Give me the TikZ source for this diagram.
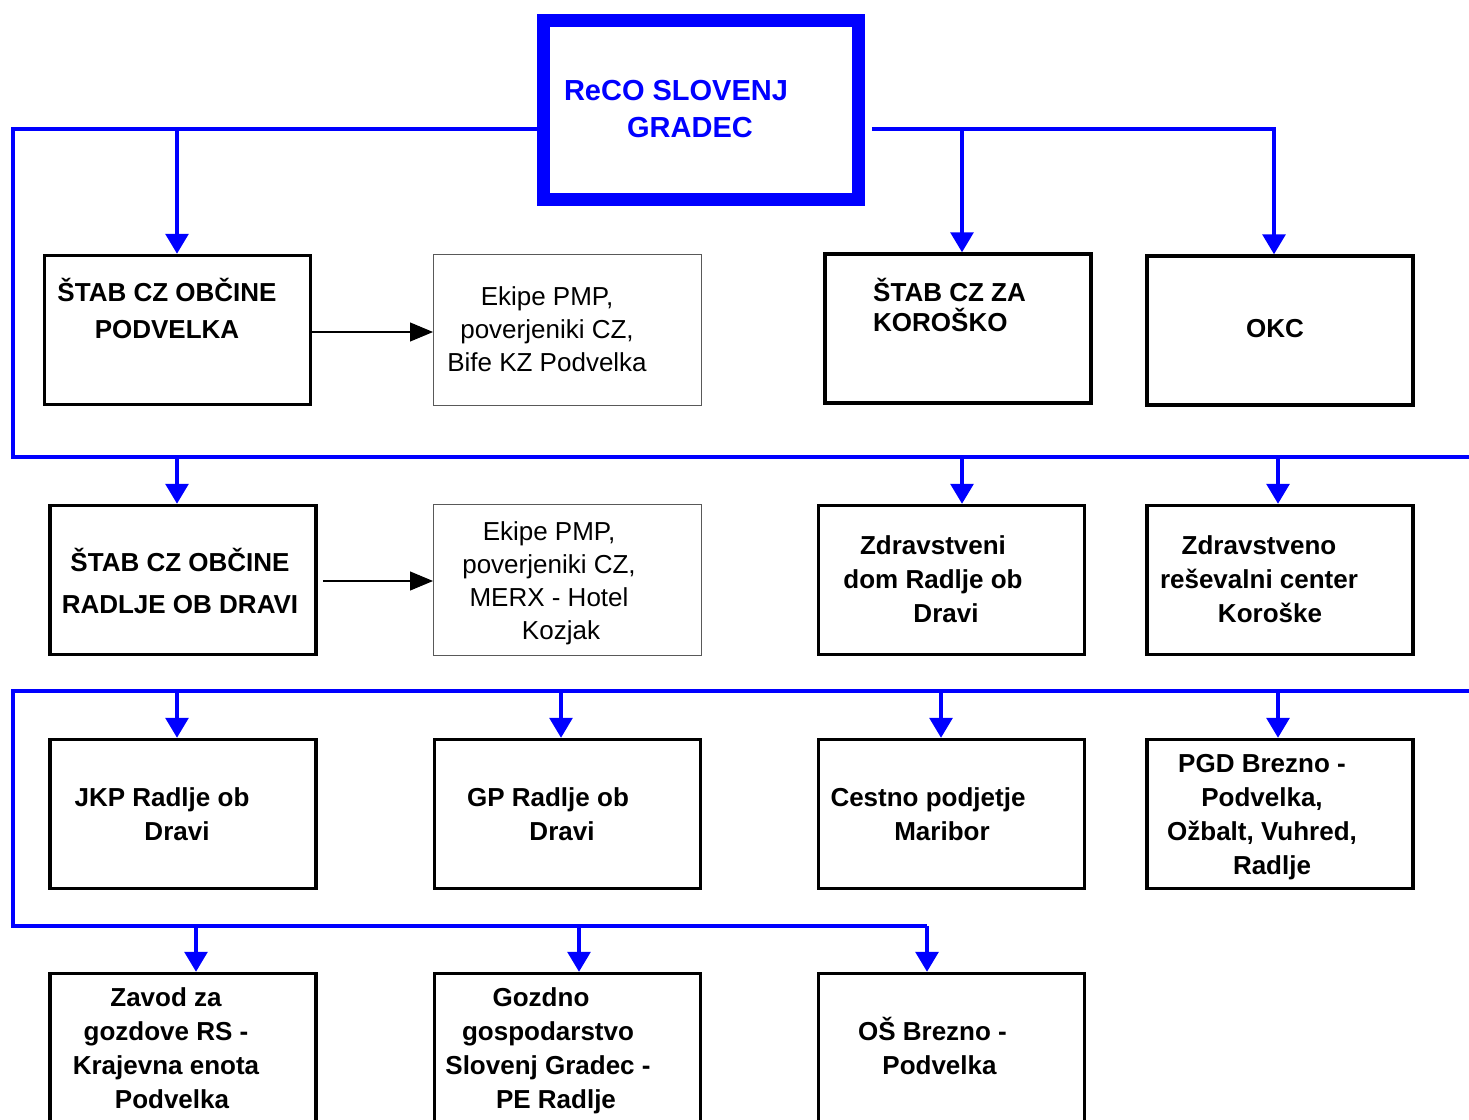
\documentclass[tikz,border=0pt]{standalone}
\usepackage{fontspec}
\setmainfont{Liberation Sans}
\usetikzlibrary{arrows.meta}
\definecolor{busblue}{RGB}{0,0,255}
\begin{document}
\begin{tikzpicture}[x=1pt,y=-1pt,
  box/.style={draw=black, line width=3.5pt, minimum width=266pt, minimum height=149pt, inner sep=0pt},
  ebox/.style={draw=black!65, line width=1pt, minimum width=268pt, minimum height=151pt, inner sep=0pt},
  txt/.style={font=\bfseries\fontsize{26}{#1}\selectfont, align=center, inner sep=0pt},
  txt/.default=34,
  toptxt/.style={font=\bfseries\fontsize{29}{37}\selectfont, align=center, inner sep=0pt, text=busblue},
  etxt/.style={font=\fontsize{26}{33}\selectfont, align=center, inner sep=0pt},
  bus/.style={draw=busblue, line width=3.2pt},
  barr/.style={bus, -{Triangle[length=20pt,width=23pt]}},
  karr/.style={draw=black, line width=1.1pt, -{Triangle[length=23pt,width=19pt]}},
]
\useasboundingbox (0,0) rectangle (1469,1119);
\clip (0,0) rectangle (1469,1119);

% top box
\node[draw=busblue, line width=12.5pt, minimum width=315pt, minimum height=179pt, inner sep=0pt] (top) at (701,110) {};
\node[toptxt] (toptext) at (683,109.5) {ReCO SLOVENJ\hspace*{14pt}\\\hspace*{14pt}GRADEC};

% row 1
\node[box] (B1) at (177.5,330) {};
\node[ebox] (E1) at (567.5,330) {};
\node[box] (B2) at (958,328.5) {};
\node[box] (B3) at (1280,330.5) {};
% row 2
\node[box] (B4) at (183,580) {};
\node[ebox] (E2) at (567.5,580) {};
\node[box] (B5) at (951.5,580) {};
\node[box] (B6) at (1280,580) {};
% row 3
\node[box] (C1) at (183,814) {};
\node[box] (C2) at (567.5,814) {};
\node[box] (C3) at (951.5,814) {};
\node[box] (C4) at (1280,814) {};
% row 4
\node[box] (D1) at (183,1048) {};
\node[box] (D2) at (567.5,1048) {};
\node[box] (D3) at (951.5,1048) {};

% texts
\node[txt=37] (tB1) at (167,308.5) {ŠTAB CZ OBČINE\\PODVELKA};
\node[etxt] (tE1) at (547,329.5) {Ekipe PMP,\\poverjeniki CZ,\\Bife KZ Podvelka};
\node[txt=30, align=left, anchor=west] (tB2) at (873,305) {ŠTAB CZ ZA\\KOROŠKO};
\node[txt] (tB3) at (1275,329) {OKC};
\node[txt=42] (tB4) at (180,581) {ŠTAB CZ OBČINE\\RADLJE OB DRAVI};
\node[etxt] (tE2) at (549,583.5) {Ekipe PMP,\\poverjeniki CZ,\\MERX - Hotel\\\hspace*{24pt}Kozjak};
\node[txt] (tB5) at (933,579) {Zdravstveni\\dom Radlje ob\\\hspace*{26pt}Dravi};
\node[txt] (tB6) at (1259,579) {Zdravstveno\\reševalni center\\\hspace*{22pt}Koroške};
\node[txt] (tC1) at (169,814) {JKP Radlje ob\hspace*{14pt}\\\hspace*{16pt}Dravi};
\node[txt] (tC2) at (555,814) {GP Radlje ob\hspace*{14pt}\\\hspace*{14pt}Dravi};
\node[txt] (tC3) at (935,814) {Cestno podjetje\hspace*{14pt}\\\hspace*{14pt}Maribor};
\node[txt] (tC4) at (1262,817) {PGD Brezno -\\Podvelka,\\Ožbalt, Vuhred,\hspace*{18pt}\\\hspace*{20pt}Radlje};
\node[txt] (tD1) at (166,1048) {Zavod za\\gozdove RS -\\Krajevna enota\\\hspace*{12pt}Podvelka};
\node[txt] (tD2) at (548,1051) {Gozdno\hspace*{14pt}\\gospodarstvo\\Slovenj Gradec -\\\hspace*{16pt}PE Radlje};
\node[txt] (tD3) at (936,1046) {OŠ Brezno -\hspace*{7pt}\\\hspace*{7pt}Podvelka};

% bus coordinates
\coordinate (c1) at (13,129);
\coordinate (c2) at (13,457);
\coordinate (r1) at (1469,457);
\coordinate (c3) at (1274,129);
\coordinate (a1) at (177,129);
\coordinate (a2) at (962,129);
\coordinate (b1) at (177,457);
\coordinate (b2) at (962,457);
\coordinate (b3) at (1278,457);
\coordinate (d1) at (13,691);
\coordinate (d2) at (13,926);
\coordinate (d3) at (1469,691);
\coordinate (d4) at (927,926);
\coordinate (e1) at (177,691);
\coordinate (e2) at (561,691);
\coordinate (e3) at (941,691);
\coordinate (e4) at (1278,691);
\coordinate (f1) at (196,926);
\coordinate (f2) at (579,926);
\coordinate (k1) at (0,332);
\coordinate (k2) at (0,581);

% blue buses
\draw[bus] (top.west |- c1) -- (c1) -- (c2) -- (r1);
\draw[barr] ([xshift=7pt]top.east |- c3) -- (c3) -- (c3 |- B3.north);
\draw[barr] (a1) -- (a1 |- B1.north);
\draw[barr] (a2) -- (a2 |- B2.north);
\draw[barr] (b1) -- (b1 |- B4.north);
\draw[barr] (b2) -- (b2 |- B5.north);
\draw[barr] (b3) -- (b3 |- B6.north);
\draw[bus] (d3) -- (d1) -- (d2) -- (d4);
\draw[barr] (d4) -- (d4 |- D3.north);
\draw[barr] (e1) -- (e1 |- C1.north);
\draw[barr] (e2) -- (e2 |- C2.north);
\draw[barr] (e3) -- (e3 |- C3.north);
\draw[barr] (e4) -- (e4 |- C4.north);
\draw[barr] (f1) -- (f1 |- D1.north);
\draw[barr] (f2) -- (f2 |- D2.north);

% black arrows
\draw[karr] (B1.east |- k1) -- (E1.west |- k1);
\draw[karr, shorten <=5pt] (B4.east |- k2) -- (E2.west |- k2);
\end{tikzpicture}
\end{document}
